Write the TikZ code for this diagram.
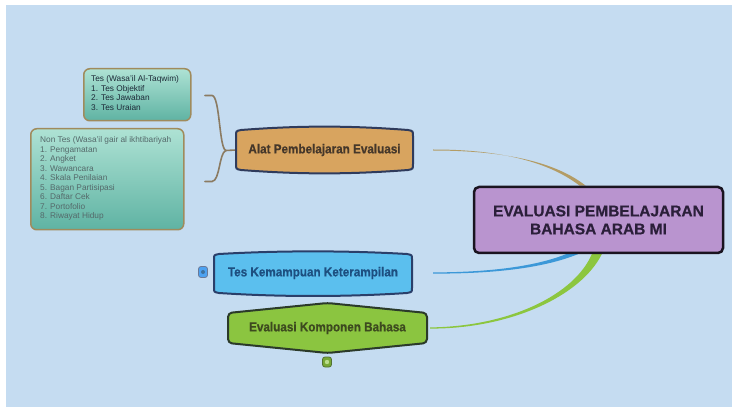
\documentclass[tikz,border=0pt]{standalone}
\usepackage{fontspec}
\setmainfont{Liberation Sans}[BoldFont={Liberation Sans Bold}]
\newfontfamily\boldfont{Liberation Sans Bold}[FakeBold=0.6]
\newfontfamily\narrowboldfont{Liberation Sans Bold}[FakeStretch=0.9, FakeBold=0.6]
\usetikzlibrary{calc}
\pgfdeclarelayer{bg}
\pgfsetlayers{bg,main}
\definecolor{bgc}{HTML}{C5DCF1}
\definecolor{alatfill}{HTML}{D8A45F}
\definecolor{alatline}{HTML}{2F3B5C}
\definecolor{alattext}{HTML}{45372A}
\definecolor{tkfill}{HTML}{5BBFEE}
\definecolor{tkline}{HTML}{2A3F6A}
\definecolor{tktext}{HTML}{1D4F80}
\definecolor{ekfill}{HTML}{8BC540}
\definecolor{ekline}{HTML}{2B3A2A}
\definecolor{ektext}{HTML}{3D4A1F}
\definecolor{mainfill}{HTML}{B994CF}
\definecolor{mainline}{HTML}{1A1420}
\definecolor{maintext}{HTML}{2B1F3A}
\definecolor{tealtop}{HTML}{AEE2D4}
\definecolor{tealbot}{HTML}{5FB3A3}
\definecolor{tealline}{HTML}{A08B5C}
\definecolor{brk}{HTML}{8B7B62}
\definecolor{tanc}{HTML}{B39C65}
\definecolor{bluec}{HTML}{3C98D8}
\definecolor{greenc}{HTML}{8CC63F}
\definecolor{listdark}{HTML}{1E2A38}
\definecolor{listgray}{HTML}{55696A}
\begin{document}
\begin{tikzpicture}[x=1pt,y=-1pt,
  tealbox/.style={rounded corners=6pt, line width=1.5pt, draw=tealline, top color=tealtop, bottom color=tealbot, inner sep=0pt},
  listtext/.style={anchor=north west, align=left, inner sep=0pt, font=\fontsize{8.3}{9.5}\selectfont},
  topic/.style={inner sep=0pt, font=\narrowboldfont\fontsize{13}{15}\selectfont},
  badge/.style={rounded corners=2.5pt, line width=0.8pt, minimum width=9pt, minimum height=11pt, inner sep=0pt},
  brkline/.style={draw=brk, line width=1.6pt}]
\useasboundingbox (0,0) rectangle (732,409);

% nodes
\node[tealbox, anchor=north west, minimum width=107pt, minimum height=52pt] (tesbox) at (83,68) {};
\node[listtext, text=listdark] (tes) at (91,75.5) {Tes (Wasa'il Al-Taqwim)\\1. Tes Objektif\\2. Tes Jawaban\\3. Tes Uraian};
\node[tealbox, anchor=north west, minimum width=153pt, minimum height=101pt] (nontesbox) at (30,128) {};
\node[listtext, text=listgray] (nontes) at (40,136.5) {Non Tes (Wasa'il gair al ikhtibariyah\\1. Pengamatan\\2. Angket\\3. Wawancara\\4. Skala Penilaian\\5. Bagan Partisipasi\\6. Daftar Cek\\7. Portofolio\\8. Riwayat Hidup};

\node[topic, text=alattext, minimum width=177pt, minimum height=44pt] (alat) at (324.5,150) {Alat Pembelajaran Evaluasi};
\node[topic, text=tktext, minimum width=198pt, minimum height=42pt] (tk) at (313,273) {Tes Kemampuan Keterampilan};
\node[topic, text=ektext, minimum width=199pt, minimum height=40pt] (ek) at (327.5,328) {Evaluasi Komponen Bahasa};

\node[draw=mainline, fill=mainfill, line width=2.5pt, rounded corners=5pt, minimum width=249pt, minimum height=66pt, align=center, text=maintext, inner sep=0pt, font=\boldfont\fontsize{15.5}{18}\selectfont] (main) at (598.5,220) {EVALUASI PEMBELAJARAN\\BAHASA ARAB MI};

\node[badge, draw=tkline!70, fill=tkfill!85!blue] (tkbadge) at (203,272) {};
\node[badge, draw=ekline!60!greenc, fill=greenc!85!black, minimum height=10pt] (ekbadge) at (327,362) {};
\fill[tkline!60!tkfill] (tkbadge) circle (2pt);
\fill[greenc!60!white] (ekbadge) circle (2.2pt);

% connector anchor points
\coordinate (a0) at ($(alat.east)+(20,0)$);
\coordinate (a1) at ($(main.north west)+(110,0)$);
\coordinate (b0) at ($(tk.east)+(21,0)$);
\coordinate (b1) at ($(main.south west)+(99,0)$);
\coordinate (g0) at ($(ek.east)+(3,0)$);
\coordinate (g1) at ($(main.south west)+(124,0)$);
\coordinate (bk) at ($(alat.west)+(-10,0.5)$);
\coordinate (bt) at (205,95.5);
\coordinate (bb) at (205,181.5);

\begin{pgfonlayer}{bg}
\fill[white] (0,0) rectangle (732,409);
\fill[bgc] (6,5) rectangle (732,407);
% tapered connectors
\fill[tanc] ($(a0)+(0,-0.5)$) .. controls ($(a0)+(77,-0.5)$) and ($(a1)+(-29,-20)$) .. ($(a1)+(-3,0)$)
  -- ($(a1)+(3,0)$) .. controls ($(a1)+(-25,-22)$) and ($(a0)+(77,0.6)$) .. ($(a0)+(0,0.5)$) -- cycle;
\fill[bluec] ($(b0)+(0,-0.6)$) .. controls ($(b0)+(57,-0.7)$) and ($(b1)+(-36,12)$) .. ($(b1)+(-6,0)$)
  -- ($(b1)+(6,0)$) .. controls ($(b1)+(-30,14.5)$) and ($(b0)+(57,0.8)$) .. ($(b0)+(0,0.6)$) -- cycle;
\fill[greenc] ($(g0)+(0,-0.6)$) .. controls ($(g0)+(80,-1.5)$) and ($(g1)+(-22,40)$) .. ($(g1)+(-5,0)$)
  -- ($(g1)+(5,0)$) .. controls ($(g1)+(-16,42)$) and ($(g0)+(80,0.8)$) .. ($(g0)+(0,0.6)$) -- cycle;
% bracket
\draw[brkline, line cap=round] (bt) -- ++(7,0) .. controls (220,96) and (219,148) .. (bk);
\draw[brkline, line cap=round] (bb) -- ++(7,0) .. controls (220,181) and (219,153) .. (bk);
\draw[brkline] (bk) -- (alat.west);
% node outlines
\path[fill=alatfill, draw=alatline, line width=2pt]
  (236,136) -- (236,164) .. controls (236,169) .. (241,170) .. controls (300,174.5) and (349,174.5) .. (408,170)
  .. controls (413,169) .. (413,164) -- (413,136) .. controls (413,131) .. (408,130)
  .. controls (349,125.5) and (300,125.5) .. (241,130) .. controls (236,131) .. (236,136) -- cycle;
\path[fill=tkfill, draw=tkline, line width=2pt]
  (214,259) -- (214,288) .. controls (214,292) .. (219,293) .. controls (280,297) and (346,297) .. (407,293)
  .. controls (412,292) .. (412,288) -- (412,259) .. controls (412,255) .. (407,254)
  .. controls (346,250.5) and (280,250.5) .. (219,254) .. controls (214,255) .. (214,259) -- cycle;
\path[fill=ekfill, draw=ekline, line width=2pt, rounded corners=4pt]
  (228,313) -- (327.5,303) -- (427,313) -- (427,343) -- (327.5,353) -- (228,343) -- cycle;
\end{pgfonlayer}
\end{tikzpicture}
\end{document}
